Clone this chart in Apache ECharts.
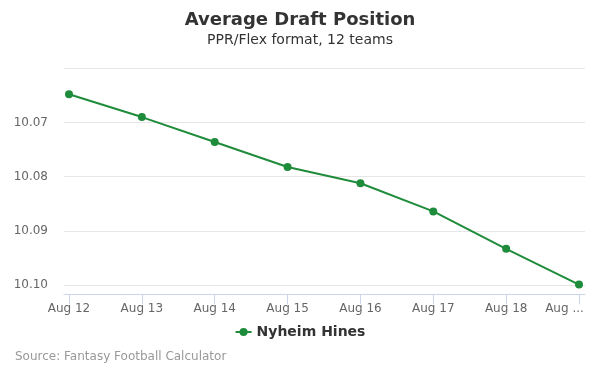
<!DOCTYPE html>
<html>
<head>
<meta charset="utf-8">
<script src="https://cdn.jsdelivr.net/npm/echarts@6/dist/echarts.min.js"></script>
<style>html,body{margin:0;padding:0;background:#fff;}#c{width:600px;height:375px;}</style>
</head>
<body>
<div id="c"></div>
<script>
var categories = ['Aug 12','Aug 13','Aug 14','Aug 15','Aug 16','Aug 17','Aug 18','Aug 19'];
var adpValues = [10.0648, 10.0690, 10.0736, 10.0782, 10.0812, 10.0864, 10.0933, 10.0999];
var yTickLabels = ['10.07','10.08','10.09','10.10'];
var seriesName = 'Nyheim Hines';

var FONT = 'DejaVu Sans';
var COLOR = '#1f8c3b';
var yMin = 10.06, yMax = 10.1017;

var chart = echarts.init(document.getElementById('c'), null, {renderer: 'canvas'});
chart.setOption({
  animation: false,
  backgroundColor: '#fff',
  title: [
    {text: 'Average Draft Position', left: 'center', top: 11, padding: 0,
     textStyle: {fontFamily: FONT, fontSize: 18, fontWeight: 'bold', color: '#333'}},
    {text: 'PPR/Flex format, 12 teams', left: 'center', top: 33, padding: 0,
     textStyle: {fontFamily: FONT, fontSize: 14, fontWeight: 'normal', color: '#333'}},
    {text: 'Source: Fantasy Football Calculator', left: 15, top: 351, padding: 0,
     textStyle: {fontFamily: FONT, fontSize: 12, fontWeight: 'normal', color: '#999'}}
  ],
  legend: {
    data: [seriesName], left: 'center', top: 325, padding: 0,
    itemWidth: 16, itemHeight: 10, itemGap: 6,
    textStyle: {fontFamily: FONT, fontSize: 14, fontWeight: 'bold', color: '#333'}
  },
  grid: [
    {left: 69, right: 21, top: 68.3, bottom: 80.7},
    {left: 64, right: 15, top: 68.3, bottom: 80.7}
  ],
  xAxis: [
    {type: 'category', gridIndex: 0, data: categories, boundaryGap: false,
     axisLine: {show: false},
     axisTick: {show: true, length: 10, interval: 0, lineStyle: {color: '#ccd6eb'}},
     splitLine: {show: false},
     axisLabel: {fontFamily: FONT, fontSize: 12, color: '#666', margin: 9, interval: 0,
       formatter: function (v, i) { return i === categories.length - 1 ? '{last|Aug ...}' : v; },
       rich: {last: {fontFamily: FONT, fontSize: 12, color: '#666', padding: [0, 29, 0, 0]}}}},
    {type: 'value', gridIndex: 1, min: 0, max: 1,
     axisLine: {show: true, lineStyle: {color: '#ccd6eb', width: 1}},
     axisTick: {show: false}, axisLabel: {show: false}, splitLine: {show: false}}
  ],
  yAxis: [
    {type: 'value', gridIndex: 0, inverse: true, min: yMin, max: yMax, interval: 0.01,
     show: false, splitLine: {show: false}},
    {type: 'value', gridIndex: 1, inverse: true, min: yMin, max: yMax, interval: 0.01,
     axisLine: {show: false}, axisTick: {show: false},
     splitLine: {show: true, lineStyle: {color: '#e6e6e6', width: 1}},
     axisLabel: {fontFamily: FONT, fontSize: 12, color: '#666', margin: 16,
       formatter: function (v) {
         var s = v.toFixed(2);
         return yTickLabels.indexOf(s) >= 0 && Math.abs(v - parseFloat(s)) < 1e-6 ? s : '';
       }}}
  ],
  series: [{
    name: seriesName, type: 'line', xAxisIndex: 0, yAxisIndex: 0,
    data: adpValues,
    symbol: 'circle', symbolSize: 8,
    lineStyle: {color: COLOR, width: 2},
    itemStyle: {color: COLOR}
  }]
});
</script>
</body>
</html>
